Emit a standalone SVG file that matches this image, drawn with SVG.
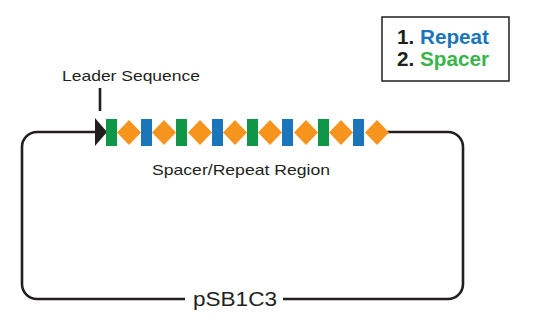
<svg xmlns="http://www.w3.org/2000/svg" width="533" height="335" viewBox="0 0 533 335">
  <style>
    .wire { fill: none; stroke: #231f20; stroke-width: 2.6; }
    .lbl { font-family: "Liberation Sans", "DejaVu Sans", sans-serif; fill: #231f20; }
    .rep { fill: #1b75bb; }
    .spc { fill: #0f9647; }
    .dia { fill: #f7941d; }
  </style>
  <defs>
    <rect id="bar" x="0" y="119" width="11" height="27"/>
    <polygon id="diamond" points="0,132.5 12,120 24,132.5 12,145"/>
  </defs>
  <rect width="533" height="335" fill="#ffffff"/>

  <!-- plasmid backbone -->
  <g id="connectors">
    <path class="wire" d="M 100 132 H 37 A 15 15 0 0 0 22 147 V 284 A 15 15 0 0 0 37 299 H 185"/>
    <path class="wire" d="M 283 299 H 448 A 15 15 0 0 0 463 284 V 147 A 15 15 0 0 0 448 132 H 385"/>
    <line class="wire" x1="100" y1="88" x2="100" y2="111" stroke-width="2"/>
  </g>

  <g id="leader">
    <polygon points="95,118 107,132 95,146" fill="#231f20"/>
    <text class="lbl" x="62" y="81" font-size="15" textLength="138" lengthAdjust="spacingAndGlyphs">Leader Sequence</text>
  </g>

  <!-- alternating repeat / spacer array -->
  <g id="array">
    <use href="#bar" x="106" class="spc"/>
    <use href="#diamond" x="117" class="dia"/>
    <use href="#bar" x="141" class="rep"/>
    <use href="#diamond" x="152" class="dia"/>
    <use href="#bar" x="176" class="spc"/>
    <use href="#diamond" x="188" class="dia"/>
    <use href="#bar" x="212" class="rep"/>
    <use href="#diamond" x="223" class="dia"/>
    <use href="#bar" x="247" class="spc"/>
    <use href="#diamond" x="258" class="dia"/>
    <use href="#bar" x="282" class="rep"/>
    <use href="#diamond" x="294" class="dia"/>
    <use href="#bar" x="318" class="spc"/>
    <use href="#diamond" x="329" class="dia"/>
    <use href="#bar" x="353" class="rep"/>
    <use href="#diamond" x="365" class="dia"/>
    <text class="lbl" x="152" y="175" font-size="15" textLength="178" lengthAdjust="spacingAndGlyphs">Spacer/Repeat Region</text>
  </g>

  <g id="backbone-label">
    <text class="lbl" x="193" y="306" font-size="20" textLength="84" lengthAdjust="spacingAndGlyphs">pSB1C3</text>
  </g>

  <g id="legend">
    <rect x="382" y="17" width="127" height="64" fill="#ffffff" stroke="#231f20" stroke-width="1.5"/>
    <text class="lbl" x="397" y="44" font-size="21" font-weight="bold" textLength="92" lengthAdjust="spacingAndGlyphs">1. <tspan fill="#1b75bb">Repeat</tspan></text>
    <text class="lbl" x="397" y="66" font-size="21" font-weight="bold" textLength="92" lengthAdjust="spacingAndGlyphs">2. <tspan fill="#39b54a">Spacer</tspan></text>
  </g>
</svg>
